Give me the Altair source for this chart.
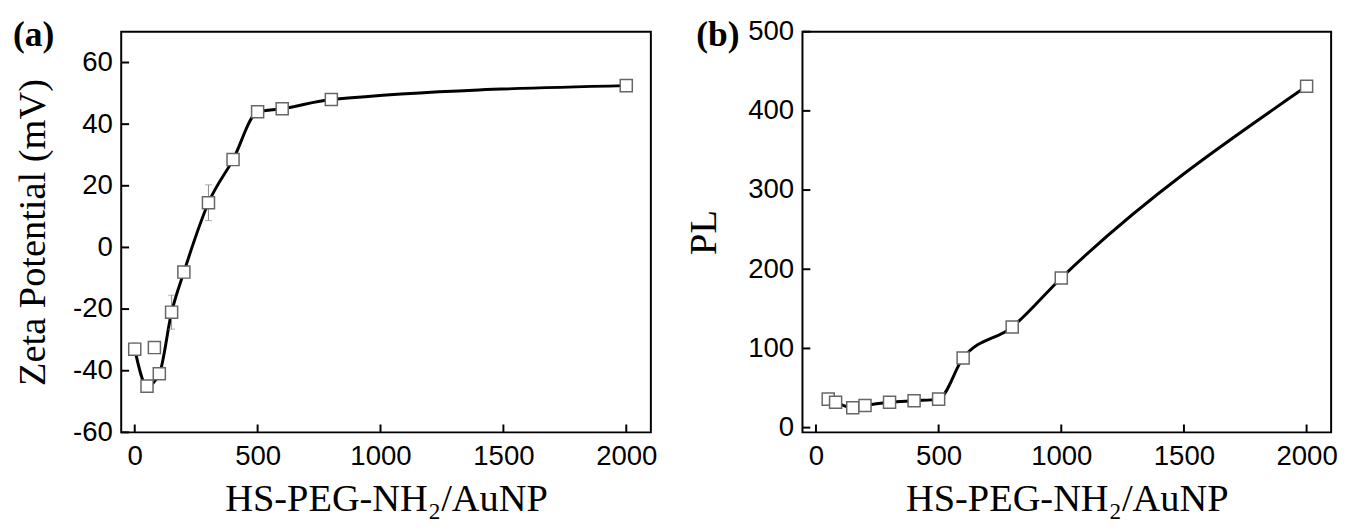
import altair as alt
import pandas as pd

# ---------------- data ----------------
# Panel (a): zeta potential vs HS-PEG-NH2/AuNP ratio
a_ratio = [0, 50, 80, 100, 150, 200, 300, 400, 500, 600, 800, 2000]
a_zeta = [-33, -45, -32.5, -41, -21, -8, 14.5, 28.5, 44, 45, 48, 52.5]
a_err = [2, 1, 1, 1.5, 5.5, 1.5, 5.8, 1.5, 1.5, 0.8, 0.8, 0.8]
a_connected = [True, True, False, True, True, True, True, True, True, True, True, True]

# Panel (b): PL vs HS-PEG-NH2/AuNP ratio
b_ratio = [50, 80, 150, 200, 300, 400, 500, 600, 800, 1000, 2000]
b_pl = [36, 32, 25, 28, 32, 34, 36, 88, 127, 189, 431]

x_ticks = [0, 500, 1000, 1500, 2000]
a_y_ticks = [-60, -40, -20, 0, 20, 40, 60]
b_y_ticks = [0, 100, 200, 300, 400, 500]

x_title = "HS-PEG-NH₂/AuNP"

W_A, W_B, H = 538, 537, 407
TICK = 8

df_a = pd.DataFrame({"x": a_ratio, "y": a_zeta, "err": a_err, "conn": a_connected})
df_a["lo"] = df_a["y"] - df_a["err"]
df_a["hi"] = df_a["y"] + df_a["err"]
df_b = pd.DataFrame({"x": b_ratio, "y": b_pl, "conn": [True] * len(b_ratio)})

PLAIN = "'' + datum.value"


def panel(df, ydom, yticks, ytitle, label, label_x, ytitle_x, width, with_err):
    xs = alt.Scale(domain=[-55, 2100], nice=False, zero=False)
    ys = alt.Scale(domain=ydom, nice=False, zero=False)
    xax = alt.Axis(values=x_ticks, title=x_title, labelPadding=11, titlePadding=9, labelExpr=PLAIN)
    yax = alt.Axis(
        values=yticks,
        title=ytitle,
        labelPadding=9,
        labelExpr=PLAIN,
        titleX=ytitle_x,
        titleY=H / 2,
        titleBaseline="middle",
        titleAlign="center",
    )

    def X(f):
        return alt.X(f, scale=xs, axis=xax, title=x_title)

    def Y(f):
        return alt.Y(f, scale=ys, axis=yax, title=ytitle)

    base = alt.Chart(df)
    layers = []
    line = base.transform_filter("datum.conn").mark_line(
        color="black", strokeWidth=3, interpolate="monotone"
    ).encode(x=X("x:Q"), y=Y("y:Q"))
    layers.append(line)
    if with_err:
        layers.append(
            base.mark_rule(color="#8a8a8a", strokeWidth=1).encode(x=X("x:Q"), y=Y("lo:Q"), y2="hi:Q")
        )
        for f in ["lo", "hi"]:
            layers.append(
                base.mark_tick(color="#8a8a8a", orient="horizontal", size=7, thickness=1).encode(
                    x=X("x:Q"), y=Y(f + ":Q")
                )
            )
    pts = base.mark_square(size=150, fill="white", stroke="#666666", strokeWidth=1.5, opacity=1).encode(
        x=X("x:Q"), y=Y("y:Q")
    )
    layers.append(pts)
    xt = alt.Chart(pd.DataFrame({"t": x_ticks})).mark_rule(color="black", strokeWidth=2).encode(
        x=X("t:Q"), y=alt.value(H), y2=alt.value(H - TICK)
    )
    yt = alt.Chart(pd.DataFrame({"t": yticks})).mark_rule(color="black", strokeWidth=2).encode(
        y=Y("t:Q"), x=alt.value(0), x2=alt.value(TICK)
    )
    lab = alt.Chart(pd.DataFrame({"t": [label]})).mark_text(
        font="Liberation Serif", fontWeight="bold", fontSize=36, align="left", baseline="middle", color="black"
    ).encode(text="t:N", x=alt.value(label_x), y=alt.value(4))
    layers += [xt, yt, lab]
    return alt.layer(*layers).properties(width=width, height=H)


pa = panel(df_a, [-60, 70], a_y_ticks, "Zeta Potential (mV)", "(a)", -110, -90, W_A, True)
pb = panel(df_b, [-6, 500], b_y_ticks, "PL", "(b)", -108, -100, W_B, False)

chart = (
    alt.hconcat(pa, pb, spacing=26)
    .properties(padding={"left": 4, "top": 5, "right": 0, "bottom": 0})
    .configure_view(stroke="black", strokeWidth=2)
    .configure_axis(
        domain=False,
        ticks=False,
        grid=False,
        labelFont="Liberation Sans",
        labelFontSize=28,
        labelColor="black",
        titleFont="Liberation Serif",
        titleFontSize=39,
        titleFontWeight="normal",
        titleColor="black",
    )
)

chart.save("out.html", embed_options={"renderer": "svg", "actions": False})
